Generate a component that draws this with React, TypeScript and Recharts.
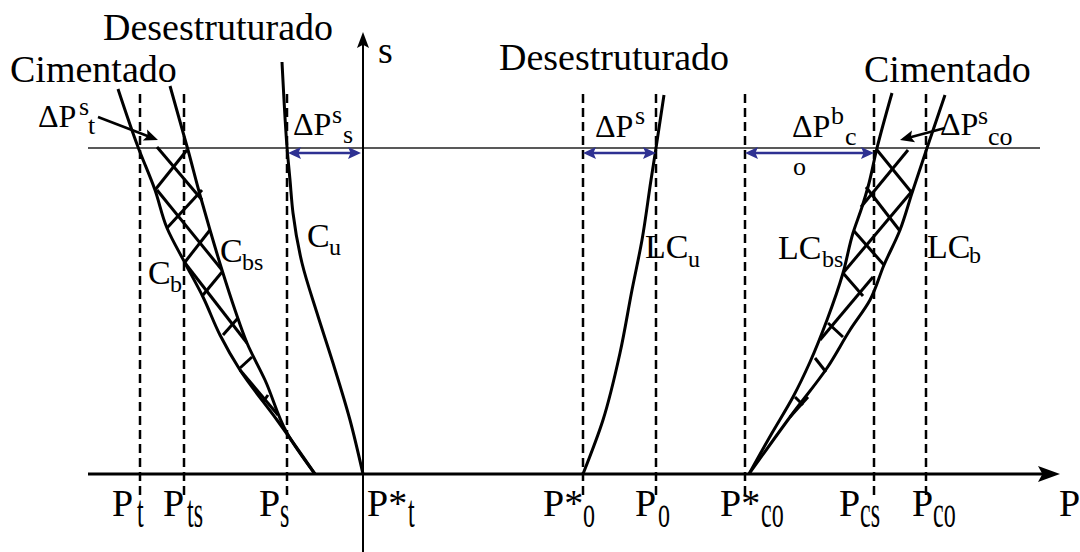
import React from 'react';
import { LineChart, Line, XAxis, YAxis, ReferenceLine, ReferenceDot } from 'recharts';

type Pt = [number, number];
type Seg = [number, number, number, number];

// P–s plane, origin at P*t on the P axis
const P_DOMAIN: [number, number] = [-36.3, 71.7];
const S_DOMAIN: [number, number] = [-7.8, 47.4];

// curves, each listed from s = 0 upwards
const C_U: Pt[] = [[0, 0], [-1.3, 5.4], [-3.0, 11.1], [-4.6, 16.1], [-6.1, 21.1], [-7.0, 26.1], [-7.3, 29.4], [-7.6, 32.7], [-7.9, 37.4], [-8.1, 41.2]];
const C_B: Pt[] = [[-4.8, 0], [-8.6, 5.4], [-12.3, 10.4], [-14.3, 13.9], [-16.0, 17.7], [-17.8, 21.1], [-19.6, 24.6], [-20.8, 28.4], [-22.5, 32.7], [-24.5, 38.5]];
const C_BS: Pt[] = [[-4.8, 0], [-7.6, 4.1], [-9.8, 9.4], [-11.6, 13.1], [-12.8, 16.4], [-14.1, 20.4], [-15.3, 24.4], [-16.3, 27.9], [-17.5, 32.4], [-19.3, 38.8]];
const LC_U: Pt[] = [[22.0, 0], [24.0, 5.4], [25.7, 12.1], [26.9, 18.4], [27.9, 23.4], [28.8, 29.4], [29.3, 32.6], [30.1, 37.9]];
const LC_BS: Pt[] = [[38.6, 0], [40.9, 4.1], [43.0, 7.7], [44.7, 11.2], [46.4, 15.4], [48.0, 20.1], [49.0, 24.1], [49.9, 26.7], [50.5, 28.7], [51.4, 32.6], [52.9, 38.1]];
const LC_B: Pt[] = [[38.6, 0], [43.0, 6.1], [46.4, 10.6], [48.7, 14.4], [50.7, 17.4], [52.1, 20.9], [53.7, 24.4], [54.9, 28.1], [56.4, 32.6], [58.2, 37.9]];

// cross hatching between the cemented curves
const HATCH_LEFT: Seg[] = [
  [-20.6, 32.7, -16.1, 27.4],
  [-20.6, 28.4, -14.1, 20.4],
  [-17.8, 21.1, -11.6, 13.1],
  [-12.3, 10.4, -8.5, 5.9],
  [-20.8, 28.4, -17.6, 32.4],
  [-19.6, 24.6, -16.1, 28.4],
  [-17.8, 21.2, -15.3, 24.4],
  [-16.0, 17.9, -14.1, 20.2],
  [-14.0, 13.9, -12.5, 15.6],
  [-12.3, 10.6, -11.1, 11.7],
  [-10.0, 7.2, -9.5, 7.9],
];
const HATCH_RIGHT: Seg[] = [
  [51.4, 32.4, 54.9, 28.1],
  [50.3, 28.7, 53.7, 24.3],
  [49.1, 24.3, 52.1, 20.9],
  [48.0, 20.1, 50.0, 17.8],
  [46.5, 15.1, 48.0, 13.7],
  [45.2, 11.6, 46.3, 10.2],
  [43.2, 7.7, 44.0, 6.9],
  [54.5, 32.4, 49.8, 26.7],
  [55.0, 28.4, 48.0, 20.1],
  [51.0, 19.7, 45.7, 13.4],
  [44.5, 7.7, 42.7, 5.7],
];

// vertical guides: Pt, Pts, Ps, P*o, Po, P*co, Pcs, Pco
const GUIDE_P = [-22.3, -17.9, -7.6, 22.0, 29.3, 38.2, 51.1, 56.3];
const GUIDE_S: Pt = [-2.1, 38.1];
const STRESS_S = 32.6; // horizontal line of the current stress level
const GAP_S = 32.1;
const GAP_SPANS: Pt[] = [[-7.5, -0.2], [22.0, 29.3], [38.2, 51.1]];
const POINTERS: Seg[] = [[-26.5, 35.7, -20.5, 33.4], [58.2, 34.6, 53.7, 33.4]];

const FONT = '"Liberation Serif", "Times New Roman", Times, serif';
const BLUE = '#2e3192';

type Part = [string, number, number, number, number?];
interface Tag { P: number; s: number; parts: Part[] }

const sub = (t: string, dx: number): Part => [t, dx, 11, 24, 1.9];

const TAGS: Tag[] = [
  { P: -26.0, s: 43.4, parts: [['Desestruturado', 0, 0, 38]] },
  { P: -35.3, s: 39.2, parts: [['Cimentado', 0, 0, 38]] },
  { P: 1.5, s: 41.1, parts: [['s', 0, 0, 38]] },
  { P: 13.6, s: 40.4, parts: [['Desestruturado', 0, 0, 38]] },
  { P: 50.1, s: 39.2, parts: [['Cimentado', 0, 0, 38]] },
  { P: -32.5, s: 34.7, parts: [['ΔP', 0, 0, 32], ['s', 41, -12, 26], ['t', 50, 7, 26]] },
  { P: -7.0, s: 33.9, parts: [['ΔP', 0, 0, 32], ['s', 39, -12, 26], ['s', 50, 8, 26]] },
  { P: 23.2, s: 33.7, parts: [['ΔP', 0, 0, 32], ['s', 40, -13, 26]] },
  { P: 42.9, s: 33.7, parts: [['ΔP', 0, 0, 32], ['b', 39, -13, 26], ['c', 53, 8, 26], ['o', 1, 38, 26]] },
  { P: 57.7, s: 33.9, parts: [['ΔP', 0, 0, 32], ['s', 38, -11, 26], ['co', 48, 10, 26]] },
  { P: -21.5, s: 19.0, parts: [['C', 0, 0, 34], ['b', 22, 8, 24]] },
  { P: -14.3, s: 21.2, parts: [['C', 0, 0, 34], ['bs', 22, 8, 24]] },
  { P: -5.6, s: 22.7, parts: [['C', 0, 0, 34], ['u', 22, 8, 24]] },
  { P: 28.2, s: 21.6, parts: [['LC', 0, 0, 34], ['u', 43, 9, 24]] },
  { P: 41.5, s: 21.5, parts: [['LC', 0, 0, 34], ['bs', 44, 8, 24]] },
  { P: 56.4, s: 21.6, parts: [['LC', 0, 0, 34], ['b', 42, 5, 24]] },
  { P: -25.1, s: -4.2, parts: [['P', 0, 0, 38], sub('t', 25)] },
  { P: -20.0, s: -4.2, parts: [['P', 0, 0, 38], sub('ts', 24)] },
  { P: -10.4, s: -4.2, parts: [['P', 0, 0, 38], sub('s', 21)] },
  { P: 0.4, s: -4.2, parts: [['P*', 0, 0, 38], sub('t', 41)] },
  { P: 18.0, s: -4.2, parts: [['P*', 0, 0, 38], sub('o', 40)] },
  { P: 27.2, s: -4.2, parts: [['P', 0, 0, 38], sub('o', 23)] },
  { P: 35.7, s: -4.2, parts: [['P*', 0, 0, 38], sub('co', 41)] },
  { P: 47.6, s: -4.2, parts: [['P', 0, 0, 38], sub('cs', 21)] },
  { P: 54.9, s: -4.2, parts: [['P', 0, 0, 38], sub('co', 21)] },
  { P: 69.6, s: -4.2, parts: [['P', 0, 0, 38]] },
];

const toRows = (pts: Pt[]) => pts.map(([P, s]) => ({ P, s }));

// line with filled arrow heads; the tip sits at (x2, y2)
const arrowShape = (color: string, width: number, len: number, half: number, both = false) => (p: any) => {
  const { x1, y1, x2, y2 } = p;
  const d = Math.hypot(x2 - x1, y2 - y1) || 1;
  const ux = (x2 - x1) / d;
  const uy = (y2 - y1) / d;
  const head = (tx: number, ty: number, sx: number, sy: number) => {
    const bx = tx - sx * len;
    const by = ty - sy * len;
    const nx = -sy * half;
    const ny = sx * half;
    const mx = tx - sx * len * 0.8;
    const my = ty - sy * len * 0.8;
    return `M${tx},${ty}L${bx + nx},${by + ny}L${mx},${my}L${bx - nx},${by - ny}Z`;
  };
  const sx = both ? x1 + ux * len * 0.7 : x1;
  const sy = both ? y1 + uy * len * 0.7 : y1;
  return (
    <g>
      <line x1={sx} y1={sy} x2={x2 - ux * len * 0.7} y2={y2 - uy * len * 0.7} stroke={color} strokeWidth={width} />
      <path d={head(x2, y2, ux, uy)} fill={color} />
      {both && <path d={head(x1, y1, -ux, -uy)} fill={color} />}
    </g>
  );
};

const tagShape = (parts: Part[]) => (p: any) => (
  <g>
    {parts.map(([text, dx, dy, size, sy], i) => (
      <text
        key={i}
        x={0}
        y={0}
        transform={`translate(${p.cx + dx},${p.cy + dy}) scale(1,${sy ?? 1})`}
        style={{ fontFamily: FONT, fontSize: size }}
        fill="#000"
      >
        {text}
      </text>
    ))}
  </g>
);

const CURVES = [C_U, C_B, C_BS, LC_U, LC_BS, LC_B];

export default function App() {
  return (
    <div style={{ position: 'absolute', left: 0, top: 0, width: 1080, height: 552, background: '#fff', fontFamily: FONT }}>
      <LineChart width={1080} height={552} margin={{ top: 0, right: 0, bottom: 0, left: 0 }} style={{ fontFamily: FONT }}>
        <XAxis type="number" dataKey="P" domain={P_DOMAIN} hide allowDataOverflow />
        <YAxis type="number" dataKey="s" domain={S_DOMAIN} hide allowDataOverflow />

        {GUIDE_P.map((P) => (
          <ReferenceLine
            key={`g${P}`}
            segment={[{ x: P, y: GUIDE_S[0] }, { x: P, y: GUIDE_S[1] }]}
            stroke="#000"
            strokeWidth={2.5}
            strokeDasharray="9 5"
          />
        ))}
        <ReferenceLine segment={[{ x: -27.5, y: STRESS_S }, { x: 67.7, y: STRESS_S }]} stroke="#222" strokeWidth={1.5} />
        <ReferenceLine
          segment={[{ x: -27.5, y: 0 }, { x: 69.7, y: 0 }]}
          shape={arrowShape('#000', 3, 22, 8)}
        />
        <ReferenceLine
          segment={[{ x: 0, y: -7.8 }, { x: 0, y: 44.2 }]}
          shape={arrowShape('#000', 2, 16, 6)}
        />

        {CURVES.map((pts, i) => (
          <Line
            key={`c${i}`}
            data={toRows(pts)}
            dataKey="s"
            type="monotoneY"
            stroke="#000"
            strokeWidth={3}
            dot={false}
            activeDot={false}
            isAnimationActive={false}
          />
        ))}
        {[...HATCH_LEFT, ...HATCH_RIGHT].map(([p1, s1, p2, s2], i) => (
          <Line
            key={`h${i}`}
            data={[{ P: p1, s: s1 }, { P: p2, s: s2 }]}
            dataKey="s"
            type="linear"
            stroke="#000"
            strokeWidth={3}
            dot={false}
            activeDot={false}
            isAnimationActive={false}
          />
        ))}

        {GAP_SPANS.map(([a, b]) => (
          <ReferenceLine
            key={`d${a}`}
            segment={[{ x: a, y: GAP_S }, { x: b, y: GAP_S }]}
            shape={arrowShape(BLUE, 2.5, 13, 6, true)}
          />
        ))}
        {POINTERS.map(([p1, s1, p2, s2]) => (
          <ReferenceLine
            key={`a${p1}`}
            segment={[{ x: p1, y: s1 }, { x: p2, y: s2 }]}
            shape={arrowShape('#000', 2.5, 14, 6)}
          />
        ))}

        {TAGS.map((t, i) => (
          <ReferenceDot key={`t${i}`} x={t.P} y={t.s} r={0} shape={tagShape(t.parts)} />
        ))}
      </LineChart>
    </div>
  );
}
